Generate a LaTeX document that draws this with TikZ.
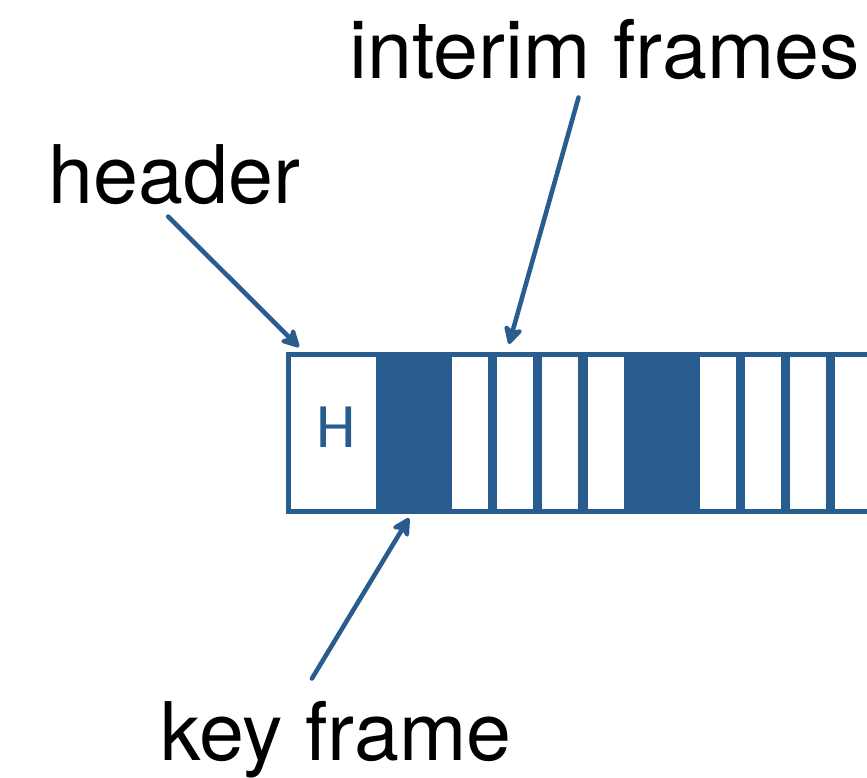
\documentclass[tikz,border=0pt]{standalone}
\usepackage{fontspec}
\setmainfont{TeX Gyre Heros}
\newfontfamily\cellfont{Carlito}
\usetikzlibrary{arrows.meta}
\definecolor{strip}{HTML}{2A5D8F}
\tikzset{
  cell/.style={draw=strip, line width=2.6pt, minimum height=3.14cm, inner sep=0pt, outer sep=0pt},
  white cell/.style={cell, fill=white, minimum width=0.812cm},
  key cell/.style={cell, fill=strip, minimum width=1.428cm},
  label/.style={font=\fontsize{46}{55}\selectfont, inner sep=0pt},
  pointer/.style={draw=strip, line width=2.6pt, line cap=round,
    -{Stealth[length=0.44cm,width=0.46cm,inset=0.12cm,round]}},
}
\begin{document}
\begin{tikzpicture}[x=0.02cm,y=-0.02cm]
    \clip (0,0) rectangle (867,778);
    % Draw interim frames
    \foreach \x [count=\i] in {470,515.2,560.4,605.6,717.6,762.8,808,853.2}
        \node[white cell] (f\i) at (\x,433) {};
    % Draw key frames
    \node[key cell] (key1) at (414,433) {};
    \node[key cell] (key2) at (661.6,433) {};
    % Draw header
    \node[cell, fill=white, minimum width=1.796cm] (hdr) at (333.4,433) {};
    \node[text=strip, inner sep=0pt, font=\cellfont\fontsize{36}{40}\selectfont] (hlabel) at (336,427) {H};
    % Labels
    \node[label, anchor=base west] (header) at (48,203) {header};
    \node[label, anchor=base west] (interim) at (349,78) {interim frames};
    \node[label, anchor=base west] (keyframe) at (160,760) {key frame};
    % Arrow tips
    \coordinate (hdrtip) at (299,347);
    \coordinate (intip) at (509,344);
    \coordinate (keytip) at (409,518);
    % Draw arrows
    \draw[pointer] ([xshift=-0.12cm,yshift=-0.24cm]header.south) -- (hdrtip);
    \draw[pointer] ([xshift=-0.52cm,yshift=-0.36cm]interim.south) -- (intip);
    \draw[pointer] ([xshift=-0.48cm,yshift=0.44cm]keyframe.north) -- (keytip);
\end{tikzpicture}
\end{document}
